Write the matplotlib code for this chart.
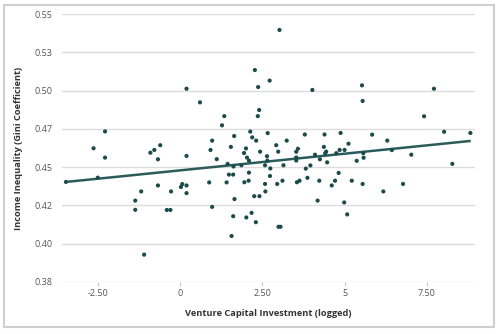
import matplotlib
matplotlib.use("Agg")
import matplotlib.pyplot as plt
from matplotlib.patches import Rectangle

# venture capital investment (logged) vs Gini coefficient
vc_invest = [
    -3.48, -2.51, -2.64, -2.29, -2.29, -0.91, -0.79, -0.61, -0.68, -0.68,
    -1.19, -1.37, -1.37, -1.10, 0.19, 0.60, 1.34, 1.27, 0.19, 0.97,
    0.92, 1.64, 1.54, 1.11, 1.44, 1.62, -0.28, 0.02, 0.06, 0.19,
    0.19, 0.88, 1.48, 1.61, 1.41, 1.65, -0.41, -0.30, 0.97, 1.61,
    1.56, 2.40, 2.36, 2.13, 2.19, 2.31, 2.66, 2.00, 1.94, 2.03,
    2.09, 2.43, 2.64, 2.92, 2.98, 3.24, 3.53, 3.58, 3.53, 3.53,
    1.86, 2.65, 2.58, 2.74, 3.14, 2.09, 2.08, 1.95, 2.73, 2.58,
    2.59, 3.11, 2.95, 2.25, 2.41, 3.55, 3.63, 2.01, 2.17, 2.30,
    2.99, 3.05, 3.02, 2.27, 2.72, 2.37, 4.02, 5.55, 5.53, 3.79,
    4.39, 4.88, 4.37, 4.44, 4.41, 4.10, 4.75, 4.85, 5.00, 5.12,
    5.57, 4.25, 4.47, 5.37, 5.58, 3.82, 3.96, 3.87, 4.23, 4.61,
    4.71, 4.82, 5.22, 5.55, 4.18, 4.99, 5.08, 5.84, 6.30, 6.44,
    7.03, 7.42, 7.72, 8.03, 8.83, 8.28, 6.18, 6.78,
]
gini = [
    0.4403, 0.4431, 0.4623, 0.4733, 0.4562, 0.4594, 0.4612, 0.4643, 0.4551, 0.4380,
    0.4341, 0.4281, 0.4221, 0.3928, 0.5012, 0.4923, 0.4833, 0.4773, 0.4573, 0.4673,
    0.4612, 0.4703, 0.4632, 0.4552, 0.4521, 0.4504, 0.4341, 0.4370, 0.4389, 0.4380,
    0.4330, 0.4400, 0.4451, 0.4451, 0.4400, 0.4291, 0.4220, 0.4220, 0.4240, 0.4179,
    0.4050, 0.4873, 0.4833, 0.4732, 0.4694, 0.4673, 0.4722, 0.4622, 0.4592, 0.4562,
    0.4542, 0.4601, 0.4571, 0.4643, 0.4601, 0.4673, 0.4600, 0.4620, 0.4563, 0.4543,
    0.4512, 0.4542, 0.4512, 0.4491, 0.4512, 0.4464, 0.4411, 0.4401, 0.4442, 0.4390,
    0.4341, 0.4411, 0.4390, 0.4310, 0.4310, 0.4401, 0.4411, 0.4171, 0.4201, 0.4140,
    0.4110, 0.4110, 0.5396, 0.5134, 0.5065, 0.5023, 0.5004, 0.4932, 0.5034, 0.4713,
    0.4713, 0.4723, 0.4632, 0.4601, 0.4590, 0.4581, 0.4591, 0.4612, 0.4612, 0.4653,
    0.4591, 0.4551, 0.4531, 0.4541, 0.4561, 0.4490, 0.4511, 0.4430, 0.4411, 0.4380,
    0.4411, 0.4462, 0.4411, 0.4390, 0.4281, 0.4269, 0.4191, 0.4712, 0.4673, 0.4611,
    0.4581, 0.4832, 0.5012, 0.4731, 0.4723, 0.4521, 0.4341, 0.4390,
]

# fitted trend line endpoints
trend_x = [-3.48, 8.84]
trend_y = [0.4403, 0.4671]

x_ticks = [-2.5, 0, 2.5, 5, 7.5]
x_labels = ["-2.50", "0", "2.50", "5", "7.50"]
y_ticks = [0.375, 0.4, 0.425, 0.45, 0.475, 0.5, 0.525, 0.55]
y_labels = ["0.38", "0.40", "0.42", "0.45", "0.47", "0.50", "0.53", "0.55"]

plt.rcParams["font.family"] = ["Open Sans", "DejaVu Sans"]

fig = plt.figure(figsize=(5, 3.34), dpi=100)
ax = fig.add_axes([0.124, 0.156, 0.826, 0.802])

ax.plot(trend_x, trend_y, color="#2b5c5b", lw=1.8, zorder=2, solid_capstyle="butt")
ax.scatter(vc_invest, gini, s=9, color="#1b4b4c", edgecolors="none", zorder=3)

ax.set_xlim(-3.6, 8.97)
ax.set_ylim(0.375, 0.55)
ax.set_xticks(x_ticks)
ax.set_xticklabels(x_labels)
ax.set_yticks(y_ticks)
ax.set_yticklabels(y_labels)

ax.grid(axis="y", color="#dcdcdc", lw=1)
ax.set_axisbelow(True)
for s in ax.spines.values():
    s.set_visible(False)

ax.tick_params(axis="x", length=3, width=0.8, color="#c8c8c8", pad=2,
               labelsize=6.5, labelcolor="#555555")
ax.tick_params(axis="y", length=0, pad=7, labelsize=6.5, labelcolor="#555555")

ax.set_xlabel("Venture Capital Investment (logged)", fontsize=6.7,
              fontweight="bold", color="#333333", labelpad=8)
ax.set_ylabel("Income Inequality (Gini Coefficient)", fontsize=6.7,
              fontweight="bold", color="#333333", labelpad=8)

# light frame round the whole picture
fig.patches.append(Rectangle((0.008, 0.02), 0.98, 0.965, transform=fig.transFigure,
                             fill=False, edgecolor="#cfcfcf", lw=1.5))

plt.savefig("out.png", dpi=100)
